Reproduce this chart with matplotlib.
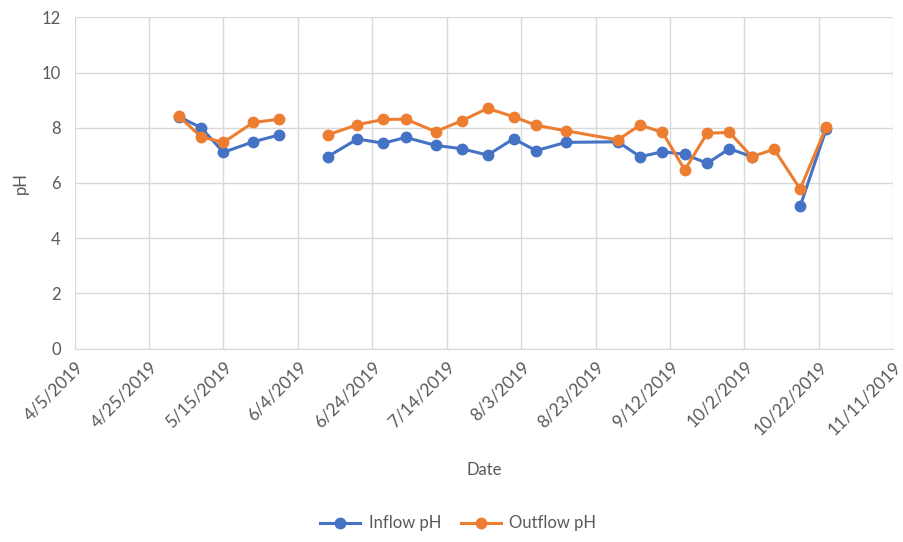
import numpy as np
import pandas as pd
import matplotlib
matplotlib.use('Agg')
import matplotlib.pyplot as plt

# sample dates (row with NaN = empty cells -> line break, like the Excel chart)
dates = ['2019-05-03', '2019-05-09', '2019-05-15', '2019-05-23', '2019-05-30',
         '2019-06-05', '2019-06-12', '2019-06-20', '2019-06-27', '2019-07-03',
         '2019-07-11', '2019-07-18', '2019-07-25', '2019-08-01', '2019-08-07',
         '2019-08-15', '2019-08-29', '2019-09-04', '2019-09-10', '2019-09-16',
         '2019-09-22', '2019-09-28', '2019-10-04', '2019-10-10', '2019-10-17',
         '2019-10-24']
inflow_ph = [8.40, 8.00, 7.11, 7.49, 7.74, np.nan, 6.95, 7.59, 7.44, 7.65,
             7.36, 7.24, 7.01, 7.60, 7.17, 7.47, 7.49, 6.95, 7.13, 7.04,
             6.71, 7.24, 6.95, np.nan, 5.15, 7.95]
outflow_ph = [8.42, 7.67, 7.47, 8.19, 8.31, np.nan, 7.74, 8.11, 8.30, 8.31,
              7.86, 8.25, 8.70, 8.40, 8.09, 7.89, 7.56, 8.10, 7.83, 6.47,
              7.80, 7.83, 6.95, 7.22, 5.78, 8.02]

x_start = '2019-04-05'
x_end = '2019-11-11'
y_ticks = [0, 2, 4, 6, 8, 10, 12]

plt.rcParams['font.family'] = ['Lato', 'DejaVu Sans']
txt_color = '#595959'
grid_color = '#d9d9d9'

dt = pd.to_datetime(dates)

fig = plt.figure(figsize=(9.04, 5.42), dpi=100)
ax = fig.add_axes([0.0826, 0.357, 0.9054, 0.611])

ax.plot(dt, inflow_ph, color='#4472C4', lw=2.2, marker='o', ms=7.5, label='Inflow pH', zorder=3)
ax.plot(dt, outflow_ph, color='#ED7D31', lw=2.2, marker='o', ms=7.5, label='Outflow pH', zorder=4)

ax.set_xlim(pd.Timestamp(x_start), pd.Timestamp(x_end))
ax.set_ylim(0, 12)
ax.set_yticks(y_ticks)
ticks = pd.date_range(x_start, x_end, freq='20D')
ax.set_xticks(ticks)
ax.set_xticklabels([f'{d.month}/{d.day}/{d.year}' for d in ticks], rotation=45,
                   ha='right', rotation_mode='anchor', fontsize=12.5)

ax.grid(True, color=grid_color, lw=1)
ax.set_axisbelow(True)
for s in ['top', 'right', 'left']:
    ax.spines[s].set_visible(False)
ax.spines['bottom'].set_color(grid_color)
ax.tick_params(length=0, colors=txt_color)
ax.tick_params(axis='y', pad=10, labelsize=12)
ax.tick_params(axis='x', pad=7)

ax.set_xlabel('Date', color=txt_color, fontsize=12, labelpad=18)
ax.set_ylabel('pH', color=txt_color, fontsize=12, labelpad=9)

fig.legend(loc='lower center', bbox_to_anchor=(0.507, -0.008), ncol=2, frameon=False,
           fontsize=12, labelcolor=txt_color, handlelength=2.4, handletextpad=0.5,
           columnspacing=1.2)

fig.savefig('out.png', dpi=100)
